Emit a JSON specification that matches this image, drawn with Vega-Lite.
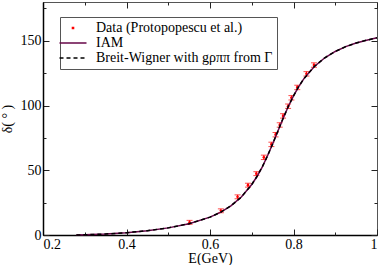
{
  "$schema": "https://vega.github.io/schema/vega-lite/v6.json",
  "width": 334,
  "height": 233,
  "autosize": "none",
  "padding": {"left": 43, "top": 2, "right": 5, "bottom": 30},
  "background": "white",
  "config": {
    "font": "Liberation Serif",
    "view": {"stroke": "#555", "strokeWidth": 1},
    "style": {
      "guide-label": {"font": "Liberation Serif", "fontSize": 14, "fill": "#000"},
      "guide-title": {"font": "Liberation Serif", "fontSize": 14, "fill": "#000", "fontWeight": "normal"}
    },
    "axis": {
      "labelFont": "Liberation Serif", "labelFontSize": 14, "labelColor": "#000",
      "titleFont": "Liberation Serif", "titleFontSize": 14, "titleFontWeight": "normal", "titleColor": "#000",
      "tickColor": "#222", "domainColor": "#000", "domainWidth": 1.5, "grid": false
    },
    "legend": {
      "labelFont": "Liberation Serif", "labelFontSize": 14, "labelColor": "#000", "labelLimit": 400
    }
  },
  "datasets": {
    "exp": [
      {"E": 0.551, "d": 9.8, "lo": 8.3, "hi": 11.3},
      {"E": 0.626, "d": 18.7, "lo": 17.2, "hi": 20.2},
      {"E": 0.666, "d": 29.5, "lo": 28.0, "hi": 31.0},
      {"E": 0.691, "d": 38.5, "lo": 37.0, "hi": 40.0},
      {"E": 0.711, "d": 47.4, "lo": 45.9, "hi": 48.9},
      {"E": 0.729, "d": 60.0, "lo": 58.3, "hi": 61.7},
      {"E": 0.747, "d": 70.0, "lo": 68.3, "hi": 71.7},
      {"E": 0.757, "d": 77.5, "lo": 75.8, "hi": 79.2},
      {"E": 0.767, "d": 85.0, "lo": 83.3, "hi": 86.7},
      {"E": 0.775, "d": 92.0, "lo": 90.3, "hi": 93.7},
      {"E": 0.787, "d": 99.5, "lo": 97.8, "hi": 101.2},
      {"E": 0.795, "d": 106.0, "lo": 104.3, "hi": 107.7},
      {"E": 0.809, "d": 114.0, "lo": 112.3, "hi": 115.7},
      {"E": 0.831, "d": 124.5, "lo": 122.8, "hi": 126.2},
      {"E": 0.849, "d": 131.3, "lo": 129.6, "hi": 133.0}
    ],
    "curve": [
      {"E": 0.28, "d": 0}, {"E": 0.3, "d": 0.12}, {"E": 0.35, "d": 0.76}, {"E": 0.4, "d": 1.81},
      {"E": 0.45, "d": 3.33}, {"E": 0.5, "d": 5.5}, {"E": 0.55, "d": 8.7}, {"E": 0.6, "d": 13.8},
      {"E": 0.625, "d": 17.5}, {"E": 0.65, "d": 22.5}, {"E": 0.675, "d": 29.3}, {"E": 0.7, "d": 39.0},
      {"E": 0.7125, "d": 45.2}, {"E": 0.725, "d": 52.5}, {"E": 0.7375, "d": 61.0}, {"E": 0.75, "d": 70.3},
      {"E": 0.7625, "d": 80.2}, {"E": 0.775, "d": 90.0}, {"E": 0.7875, "d": 99.3}, {"E": 0.8, "d": 107.5},
      {"E": 0.8125, "d": 114.7}, {"E": 0.825, "d": 120.8}, {"E": 0.85, "d": 130.2}, {"E": 0.875, "d": 136.9},
      {"E": 0.9, "d": 141.8}, {"E": 0.925, "d": 145.5}, {"E": 0.95, "d": 148.3}, {"E": 0.975, "d": 150.5},
      {"E": 1.0, "d": 152.3}
    ]
  },
  "resolve": {"axis": {"x": "independent", "y": "independent"}},
  "layer": [
    {
      "data": {"name": "exp"},
      "mark": {"type": "rule", "color": "#ff0000", "strokeWidth": 1},
      "encoding": {
        "x": {"field": "E", "type": "quantitative", "scale": {"domain": [0.2, 1.0], "nice": false, "zero": false},
              "axis": {"orient": "top", "values": [0.2, 0.4, 0.6, 0.8, 1.0], "labels": false, "domain": false, "title": null, "tickSize": -6}},
        "y": {"field": "lo", "type": "quantitative", "scale": {"domain": [0, 180], "nice": false},
              "axis": {"orient": "right", "values": [0, 50, 100, 150], "labels": false, "domain": false, "title": null, "tickSize": -6}},
        "y2": {"field": "hi"}
      }
    },
    {
      "data": {"name": "exp"},
      "mark": {"type": "tick", "color": "#ff0000", "orient": "horizontal", "size": 6, "thickness": 1},
      "encoding": {
        "x": {"field": "E", "type": "quantitative",
              "axis": {"orient": "top", "values": [0.3, 0.5, 0.7, 0.9], "labels": false, "domain": false, "title": null, "tickSize": -3}},
        "y": {"field": "lo", "type": "quantitative",
              "axis": {"orient": "right", "values": [25, 75, 125, 175], "labels": false, "domain": false, "title": null, "tickSize": -3}}
      }
    },
    {
      "data": {"name": "exp"},
      "mark": {"type": "tick", "color": "#ff0000", "orient": "horizontal", "size": 6, "thickness": 1},
      "encoding": {
        "x": {"field": "E", "type": "quantitative", "axis": null},
        "y": {"field": "hi", "type": "quantitative", "axis": null}
      }
    },
    {
      "data": {"name": "exp"},
      "transform": [{"calculate": "'Data (Protopopescu et al.)'", "as": "series"}],
      "mark": {"type": "circle", "size": 7, "opacity": 1},
      "encoding": {
        "x": {"field": "E", "type": "quantitative", "axis": null},
        "y": {"field": "d", "type": "quantitative", "axis": null},
        "color": {"field": "series", "type": "nominal"}
      }
    },
    {
      "data": {"name": "curve"},
      "transform": [{"calculate": "'IAM'", "as": "series"}],
      "mark": {"type": "line", "strokeWidth": 1.5},
      "encoding": {
        "x": {"field": "E", "type": "quantitative",
              "axis": {"orient": "bottom", "values": [0.2, 0.4, 0.6, 0.8, 1.0], "title": "E(GeV)", "tickSize": -6, "labelPadding": 8,
                       "labelFont": "Liberation Serif", "titleFont": "Liberation Serif",
                       "labelExpr": "datum.value == 1 ? '1' : format(datum.value, '.1f')", "titlePadding": 0}},
        "y": {"field": "d", "type": "quantitative",
              "axis": {"orient": "left", "values": [0, 50, 100, 150], "title": "δ( ° )", "tickSize": -6, "labelPadding": 8, "titlePadding": 6,
                       "labelFont": "Liberation Serif", "titleFont": "Liberation Serif"}},
        "color": {"field": "series", "type": "nominal",
          "scale": {"domain": ["Data (Protopopescu et al.)", "IAM", "Breit-Wigner with gρππ from Γ"], "range": ["#ff0000", "#670748", "#000000"]},
          "legend": {
            "title": null, "orient": "none", "legendX": 17, "legendY": 15,
            "strokeColor": "#555", "padding": 4, "symbolSize": 729, "symbolType": "stroke", "symbolStrokeWidth": 1.5,
            "labelOffset": 16, "symbolOffset": 2, "rowPadding": 1,
            "encode": {
              "symbols": {"update": {
                "shape": {"value": "stroke"},
                "size": {"value": 729},
                "fill": {"value": "transparent"},
                "stroke": {"signal": "datum.value === 'Data (Protopopescu et al.)' ? '#ff0000' : (datum.value === 'IAM' ? '#670748' : '#000000')"},
                "strokeDash": {"signal": "datum.value === 'IAM' ? [1, 0] : (datum.value === 'Data (Protopopescu et al.)' ? [0, 12.2, 2.6, 100] : [4, 3])"},
                "strokeWidth": {"signal": "datum.value === 'Data (Protopopescu et al.)' ? 2.6 : 1.5"},
                "opacity": {"value": 1}
              }}
            }
          }
        }
      }
    },
    {
      "data": {"name": "curve"},
      "transform": [{"calculate": "'Breit-Wigner with gρππ from Γ'", "as": "series"}],
      "mark": {"type": "line", "strokeWidth": 1.5, "strokeDash": [4, 3]},
      "encoding": {
        "x": {"field": "E", "type": "quantitative",
              "axis": {"orient": "bottom", "values": [0.3, 0.5, 0.7, 0.9], "labels": false, "domain": false, "title": null, "tickSize": -3}},
        "y": {"field": "d", "type": "quantitative",
              "axis": {"orient": "left", "values": [25, 75, 125, 175], "labels": false, "domain": false, "title": null, "tickSize": -3}},
        "color": {"field": "series", "type": "nominal"}
      }
    }
  ]
}
